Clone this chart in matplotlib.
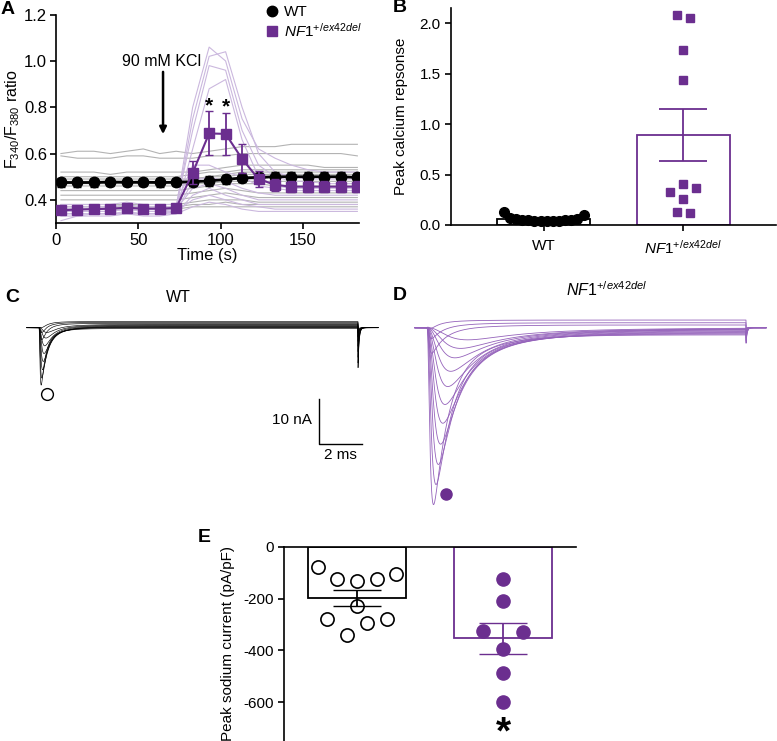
import numpy as np
import matplotlib.pyplot as plt

plt.rcParams['font.family'] = ['Liberation Sans', 'DejaVu Sans']
plt.rcParams['mathtext.fontset'] = 'custom'
plt.rcParams['mathtext.rm'] = 'Liberation Sans'
plt.rcParams['mathtext.it'] = 'Liberation Sans:italic'
plt.rcParams['mathtext.bf'] = 'Liberation Sans:bold'
plt.rcParams['axes.unicode_minus'] = False

PURPLE = '#6b2e8f'
NF1 = r'$\mathit{NF1}^{\mathit{+/ex42del}}$'

# ---- A: ratio time course ----
a_time = [3, 13, 23, 33, 43, 53, 63, 73, 83, 93, 103, 113, 123, 133, 143, 153, 163, 173, 183]
wt_mean = [0.475, 0.475, 0.475, 0.477, 0.476, 0.476, 0.475, 0.476, 0.478, 0.482, 0.488, 0.495, 0.497,
           0.500, 0.500, 0.500, 0.500, 0.500, 0.497]
wt_sem = [0.018] * 8 + [0.02] * 11
nf1_mean = [0.355, 0.358, 0.360, 0.362, 0.366, 0.362, 0.362, 0.365, 0.517, 0.687, 0.685, 0.577, 0.490,
            0.465, 0.457, 0.457, 0.457, 0.457, 0.457]
nf1_sem = [0.01] * 8 + [0.05, 0.095, 0.09, 0.063, 0.035, 0.025, 0.025, 0.025, 0.025, 0.025, 0.025]

wt_traces = [
    [.60, .61, .61, .60, .61, .62, .60, .61, .60, .61, .62, .63, .63, .63, .64, .64, .64, .64, .64],
    [.59, .58, .58, .58, .59, .59, .58, .58, .58, .59, .59, .60, .60, .60, .60, .60, .60, .60, .59],
    [.52, .52, .52, .51, .52, .52, .52, .52, .52, .53, .54, .55, .55, .55, .55, .55, .54, .54, .54],
    [.50, .50, .50, .50, .50, .50, .50, .50, .51, .52, .52, .53, .53, .53, .53, .53, .53, .53, .53],
    [.49, .49, .49, .49, .49, .49, .49, .49, .49, .50, .51, .52, .52, .52, .52, .52, .52, .52, .52],
    [.48, .48, .48, .48, .48, .48, .48, .48, .49, .50, .50, .51, .51, .51, .51, .51, .51, .51, .51],
    [.47, .47, .47, .47, .47, .47, .47, .47, .48, .48, .49, .49, .49, .50, .50, .50, .50, .50, .50],
    [.46, .46, .46, .46, .46, .46, .46, .46, .47, .47, .48, .48, .48, .48, .48, .48, .48, .48, .48],
    [.44, .44, .44, .44, .44, .44, .44, .44, .45, .46, .47, .47, .47, .46, .46, .46, .46, .46, .46],
    [.42, .42, .42, .42, .42, .42, .42, .42, .43, .44, .45, .44, .43, .43, .43, .43, .43, .43, .43],
    [.40, .40, .40, .40, .40, .40, .40, .40, .41, .42, .43, .42, .41, .41, .41, .41, .41, .41, .41],
    [.38, .38, .38, .38, .38, .38, .38, .38, .39, .40, .40, .40, .39, .39, .39, .39, .39, .39, .39],
    [.37, .37, .37, .37, .37, .37, .37, .37, .38, .38, .39, .38, .38, .38, .38, .38, .38, .38, .38],
    [.36, .36, .36, .36, .36, .36, .36, .36, .37, .37, .37, .37, .37, .37, .37, .37, .37, .37, .37],
]
nf1_traces = [
    [.36, .36, .36, .36, .37, .36, .36, .37, .80, 1.06, 1.00, .75, .62, .58, .55, .53, .52, .52, .52],
    [.35, .35, .35, .35, .36, .35, .35, .36, .75, 1.02, 1.04, .80, .60, .52, .50, .49, .49, .49, .49],
    [.37, .37, .37, .37, .38, .37, .37, .37, .70, .98, .96, .70, .55, .50, .48, .48, .47, .47, .47],
    [.34, .34, .34, .34, .35, .34, .34, .35, .62, .88, .92, .66, .50, .46, .45, .45, .45, .45, .45],
    [.38, .38, .38, .38, .39, .38, .38, .38, .55, .55, .52, .50, .46, .45, .44, .44, .44, .44, .44],
    [.35, .35, .35, .35, .36, .35, .35, .35, .48, .50, .48, .45, .43, .42, .42, .42, .42, .42, .42],
    [.36, .36, .36, .36, .36, .36, .36, .36, .45, .47, .45, .42, .40, .40, .40, .40, .40, .40, .40],
    [.33, .33, .33, .33, .34, .33, .33, .34, .42, .45, .42, .40, .38, .38, .38, .38, .38, .38, .38],
    [.34, .34, .34, .34, .34, .34, .34, .35, .40, .42, .40, .38, .37, .36, .36, .36, .36, .36, .36],
    [.31, .33, .34, .34, .34, .34, .34, .34, .37, .39, .38, .36, .35, .35, .35, .35, .35, .35, .35],
]
star_times = [93, 103]
kcl_time = 65

# ---- B: peak calcium response ----
b_wt = [0.13, 0.07, 0.06, 0.05, 0.045, 0.04, 0.035, 0.035, 0.035, 0.04, 0.045, 0.05, 0.06, 0.095]
b_nf1 = [2.08, 2.05, 1.73, 1.44, 0.33, 0.41, 0.37, 0.26, 0.13, 0.12]

# ---- C / D: sodium current sweeps (peak time ms, peak nA, late nA) ----
c_peak_ms = [0.10, 0.14, 0.19, 0.23, 0.28, 0.33, 0.42, 0.51, 0.15, 0.15, 0.20]
c_peak_na = [12.7, 11.2, 9.4, 7.6, 5.9, 4.3, 2.7, 1.6, 3.0, 1.5, 0.5]
c_late_na = [-0.2, 0.0, 0.1, 0.2, 0.3, 0.45, 0.6, 0.75, 0.95, 1.15, 1.35]
d_peak_ms = [0.28, 0.42, 0.56, 0.70, 0.84, 0.98, 1.16, 1.35, 1.63, 2.00, 2.47, 0.20, 0.20, 0.25]
d_peak_na = [38.3, 33.8, 29.4, 25.0, 20.5, 16.5, 12.7, 9.4, 6.5, 4.5, 2.7, 6.0, 3.0, 1.0]
d_late_na = [-1.6, -1.4, -1.2, -1.0, -0.8, -0.6, -0.4, -0.3, -0.2, -0.1, 0.0, 0.6, 1.1, 1.7]
step_off = 14.84

# ---- E: peak sodium current density ----
e_wt = [-77, -124, -133, -124, -106, -229, -281, -342, -296, -281]
e_nf1 = [-126, -210, -326, -396, -330, -487, -598]

W, H = 777, 741
fig = plt.figure(figsize=(W / 100, H / 100), dpi=100)


def px_axes(x0, y0, x1, y1):
    return fig.add_axes([x0 / W, 1 - y1 / H, (x1 - x0) / W, (y1 - y0) / H])


def row_offsets(vals, gap, step):
    vals = np.asarray(vals, float)
    order = np.argsort(-vals, kind='stable')
    rows, cur = [], [order[0]]
    for a, b in zip(order[:-1], order[1:]):
        if vals[a] - vals[b] <= gap:
            cur.append(b)
        else:
            rows.append(cur)
            cur = [b]
    rows.append(cur)
    off = np.zeros(len(vals))
    for r in rows:
        r = sorted(r)
        for i, idx in enumerate(r):
            off[idx] = (i - (len(r) - 1) / 2) * step
    return off


def mean_sem(v):
    v = np.asarray(v, float)
    return v.mean(), v.std(ddof=1) / np.sqrt(len(v))


def style_axes(ax):
    for s in ['top', 'right']:
        ax.spines[s].set_visible(False)
    for s in ['left', 'bottom', 'top']:
        ax.spines[s].set_linewidth(1.2)
    ax.tick_params(direction='out', length=4, width=1.2)


# ---------------- A ----------------
axA = px_axes(56, 14.7, 359, 223)
style_axes(axA)
for tr in wt_traces:
    axA.plot(a_time, tr, color='#b3b3b3', lw=0.8, zorder=1)
for tr in nf1_traces:
    axA.plot(a_time, tr, color='#cbb8de', lw=0.8, zorder=1)
axA.errorbar(a_time, wt_mean, yerr=wt_sem, color='black', marker='o', ms=7.5, lw=2,
             elinewidth=1.3, capsize=3, zorder=4)
axA.errorbar(a_time, nf1_mean, yerr=nf1_sem, color=PURPLE, marker='s', ms=7, lw=1.5,
             elinewidth=1.3, capsize=3, zorder=5)
for st in star_times:
    i = a_time.index(st)
    axA.text(st, nf1_mean[i] + nf1_sem[i] - 0.015, '*', ha='center', va='bottom',
             fontsize=15, fontweight='bold')
axA.annotate('', xy=(kcl_time, 0.672), xytext=(kcl_time, 0.965),
             arrowprops=dict(arrowstyle='-|>', color='black', lw=1.8, mutation_scale=10))
axA.text(kcl_time - 1, 0.997, '90 mM KCl', ha='center', va='center', fontsize=11.5)
axA.set_xlim(0, 184)
axA.set_ylim(0.3, 1.2)
axA.set_xticks([0, 50, 100, 150])
axA.set_yticks([0.4, 0.6, 0.8, 1.0, 1.2])
axA.set_yticklabels(['%.1f' % v for v in [0.4, 0.6, 0.8, 1.0, 1.2]])
axA.tick_params(labelsize=12)
axA.tick_params(axis='y', pad=2.5)
axA.set_xlabel('Time (s)', fontsize=12, labelpad=0)
axA.set_ylabel(r'F$_{340}$/F$_{380}$ ratio', fontsize=11.5, labelpad=1)
hw = axA.plot([], [], 'o', color='black', ms=7.5)[0]
hn = axA.plot([], [], 's', color=PURPLE, ms=7)[0]
axA.legend([hw, hn], ['WT', NF1], loc='upper left', bbox_to_anchor=(0.693, 1.045),
           frameon=False, fontsize=11, handlelength=0.8, handletextpad=0.4,
           labelspacing=0.15, borderpad=0, borderaxespad=0)

# ---------------- B ----------------
axB = px_axes(451, 8, 776, 225)
style_axes(axB)
m_wt, s_wt = mean_sem(b_wt)
m_nf, s_nf = mean_sem(b_nf1)
axB.bar([0, 1], [m_wt, m_nf], width=0.67, facecolor='white', edgecolor=['black', PURPLE],
        lw=1.3, zorder=2)
axB.errorbar([0], [m_wt], yerr=[s_wt], color='black', capsize=17, lw=1.3, zorder=3)
axB.errorbar([1], [m_nf], yerr=[s_nf], color=PURPLE, capsize=17, lw=1.3, capthick=1.3, zorder=3)
axB.plot(0 + row_offsets(b_wt, 0.05, 0.044), b_wt, 'o', color='black', ms=7, zorder=4,
         clip_on=False)
axB.plot(1 + row_offsets(b_nf1, 0.05, 0.093), b_nf1, 's', color=PURPLE, ms=6.2, zorder=4)
axB.set_xlim(-0.664, 1.664)
axB.set_ylim(0, 2.15)
axB.set_yticks([0, 0.5, 1.0, 1.5, 2.0])
axB.set_yticklabels(['%.1f' % v for v in [0, 0.5, 1.0, 1.5, 2.0]])
axB.set_xticks([0, 1])
axB.set_xticklabels(['WT', NF1])
axB.tick_params(labelsize=11)
axB.tick_params(axis='x', pad=6)
axB.set_ylabel('Peak calcium repsonse', fontsize=11, labelpad=8)


# ---------------- C / D ----------------
def sweep(t, amp, tpk, late, tau_h, tail):
    tt = np.clip(t, 0, None)
    m = 1 - np.exp(-tt / (tpk / 3))
    h = 0.8 * np.exp(-tt / tau_h) + 0.2 * np.exp(-tt / (3 * tau_h))
    g = m ** 3 * h
    g = g / g.max()
    i = -amp * g + late * (1 - np.exp(-tt / 0.3))
    i[t < 0] = 0
    after = t >= step_off
    i[after] = -tail * np.exp(-(t[after] - step_off) / 0.05)
    return i


t = np.arange(-0.56, 15.77, 0.004)
PX_MS, PX_NA = 21.5, 4.5

axC = px_axes(0, 280, 390, 470)
axC.set_xlim(-39 / PX_MS, (390 - 39) / PX_MS)
axC.set_ylim(-(470 - 327.7) / PX_NA, (327.7 - 280) / PX_NA)
axC.axis('off')
for a, tp, la in zip(c_peak_na, c_peak_ms, c_late_na):
    axC.plot(t, sweep(t, a, tp, la, 0.12 + 0.6 * tp, 0.7 * a), color='black', lw=0.45)
k = int(np.argmax(c_peak_na))
axC.plot(c_peak_ms[k] + 0.27, -c_peak_na[k] - 2.0, 'o', mfc='white', mec='black', mew=1, ms=8.5)
# scale bar: 2 ms, 10 nA
sx, sy = 13.02, -25.8
axC.plot([sx, sx, sx + 2], [sy + 10, sy, sy], color='black', lw=1)
axC.text(sx - 0.35, sy + 5.3, '10 nA', ha='right', va='center', fontsize=11)
axC.text(sx + 1.0, sy - 1.0, '2 ms', ha='center', va='top', fontsize=11)

axD = px_axes(390, 280, 777, 512)
axD.set_xlim(-37 / PX_MS, (777 - 427) / PX_MS)
axD.set_ylim(-(512 - 327.7) / PX_NA, (327.7 - 280) / PX_NA)
axD.axis('off')
for a, tp, la in zip(d_peak_na, d_peak_ms, d_late_na):
    axD.plot(t, sweep(t, a, tp, la, 0.45 + 0.6 * tp, 0.09 * a), color='#9563bb', lw=0.6)
k = int(np.argmax(d_peak_na))
axD.plot(d_peak_ms[k] + 0.6, -d_peak_na[k] + 1.4, 'o', color=PURPLE, ms=8)

fig.text(178 / W, 1 - 297 / H, 'WT', ha='center', va='center', fontsize=11.5)
fig.text(607 / W, 1 - 290 / H, NF1, ha='center', va='center', fontsize=11.5)

# ---------------- E ----------------
axE = px_axes(284, 546.7, 576, 741)
axE.spines['right'].set_visible(False)
axE.spines['bottom'].set_visible(False)
axE.spines['left'].set_linewidth(1.2)
axE.spines['top'].set_linewidth(1.2)
axE.tick_params(axis='y', direction='out', length=4, width=1.2, labelsize=11)
axE.tick_params(axis='x', bottom=False, labelbottom=False, top=False)
m_wt, s_wt = mean_sem(e_wt)
m_nf, s_nf = mean_sem(e_nf1)
axE.bar([0, 1], [m_wt, m_nf], width=0.67, facecolor='white', edgecolor=['black', PURPLE],
        lw=1.3, zorder=2)
axE.errorbar([0], [m_wt], yerr=[s_wt], color='black', capsize=17, lw=1.3, zorder=3)
axE.errorbar([1], [m_nf], yerr=[s_nf], color=PURPLE, capsize=17, lw=1.3, zorder=3)
axE.plot(0 + row_offsets(e_wt, 50, 0.135), e_wt, 'o', mfc='none', mec='black', mew=1.2,
         ms=9.5, zorder=4)
axE.plot(1 + row_offsets(e_nf1, 70, 0.135), e_nf1, 'o', color=PURPLE, ms=9.5, zorder=4)
axE.text(1, -722, '*', ha='center', va='center', fontsize=28, fontweight='bold')
axE.set_xlim(-0.5, 1.5)
axE.set_ylim(-750, 0)
axE.set_yticks([0, -200, -400, -600])
axE.set_ylabel('Peak sodium current (pA/pF)', fontsize=11, labelpad=6)

for lab, x, y in [('A', 8, 10), ('B', 400, 8), ('C', 12, 297), ('D', 400, 295), ('E', 204, 537)]:
    fig.text(x / W, 1 - y / H, lab, ha='center', va='center', fontsize=14, fontweight='bold')

fig.savefig('out.png', dpi=100)
